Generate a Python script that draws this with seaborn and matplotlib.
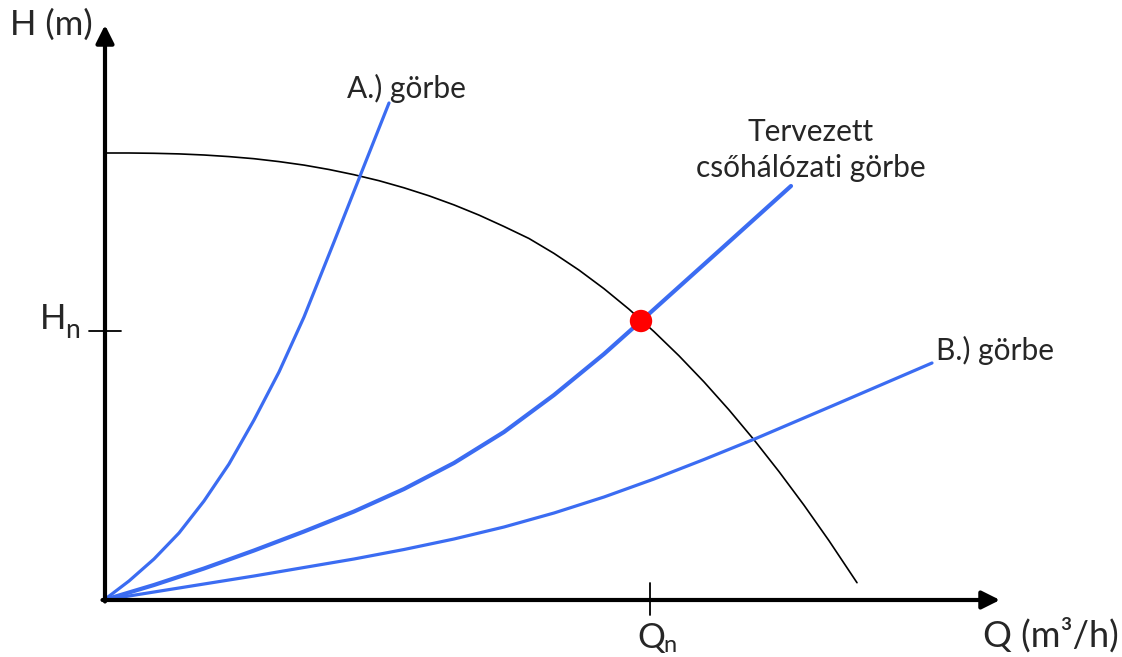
import matplotlib
matplotlib.use("Agg")
import matplotlib.pyplot as plt
import seaborn as sns
import pandas as pd

sns.set_theme(style="white")
plt.rcParams['font.family'] = ['Lato', 'DejaVu Sans']

# curves (arbitrary units, origin at axis corner)
pump_q = [0, 25, 50, 75, 100, 125, 150, 175, 200, 225, 250, 275, 300, 325, 350, 375,
          400, 425, 450, 475, 500, 525, 550, 575, 600, 625, 650, 675, 700, 725, 753]
pump_h = [447, 447, 446.7, 446.1, 445, 443.4, 441.3, 438.4, 434.9, 430.5, 425.3, 419.3,
          412.2, 404.2, 395.1, 384.9, 373.5, 361.5, 346.6, 329.9, 311.3, 290.8, 268.4,
          244.2, 218.1, 190.1, 160.2, 128.4, 94.8, 59.3, 17.3]

a_q = [0, 25, 50, 75, 100, 125, 150, 175, 200, 230, 260, 285]
a_h = [0, 19, 41, 67, 99, 136, 180, 228, 283, 358, 434, 497]

plan_q = [0, 50, 100, 150, 200, 250, 300, 350, 400, 450, 500, 537, 616, 687]
plan_h = [0, 15, 31.5, 49.5, 68.5, 88.5, 111, 137, 168, 205, 246, 279, 350, 414]

b_q = [0, 50, 100, 150, 200, 250, 300, 350, 400, 450, 500, 550, 600, 653, 728, 828]
b_h = [0, 8, 16, 24, 32.5, 41, 50.5, 61, 73, 87, 103, 121, 140.5, 162, 194, 237]

work_q = [537]
work_h = [279]
qn, hn = 546, 269

blue = '#3b6cf2'

fig = plt.figure(figsize=(11.22, 6.57), dpi=100)
ax = fig.add_axes([0, 0, 1, 1])

df = pd.concat([
    pd.DataFrame({'Q': pump_q, 'H': pump_h, 'curve': 'pump'}),
    pd.DataFrame({'Q': a_q, 'H': a_h, 'curve': 'A'}),
    pd.DataFrame({'Q': plan_q, 'H': plan_h, 'curve': 'plan'}),
    pd.DataFrame({'Q': b_q, 'H': b_h, 'curve': 'B'}),
])

sns.lineplot(data=df, x='Q', y='H', hue='curve', size='curve', sort=False,
             palette={'pump': 'black', 'A': blue, 'plan': blue, 'B': blue},
             sizes={'pump': 1.2, 'A': 2.3, 'plan': 3.0, 'B': 2.3},
             legend=False, ax=ax)
sns.scatterplot(x=work_q, y=work_h, color='red', s=260, edgecolor='none', zorder=5, ax=ax)

# axes with arrows
arr = dict(arrowstyle='-|>,head_length=0.4,head_width=0.2', lw=3, color='black',
           mutation_scale=27, shrinkA=0, shrinkB=0)
ax.annotate('', xy=(896, 0), xytext=(-1.5, 0), arrowprops=arr)
ax.annotate('', xy=(1, 575), xytext=(1, -1.5), arrowprops=arr)

# ticks for nominal point
ax.plot([-15, 17], [hn, hn], color='black', lw=1.3)
ax.plot([qn, qn], [-15, 17], color='black', lw=1.3)

ax.text(-94, 575, 'H (m)', fontsize=25, ha='left', va='center')
ax.text(-64, 281, 'H', fontsize=25, ha='left', va='center')
ax.text(-39, 270, 'n', fontsize=19, ha='left', va='center')
ax.text(533, -38, 'Q', fontsize=25, ha='left', va='center')
ax.text(559, -45, 'n', fontsize=17, ha='left', va='center')
ax.text(879, -35, 'Q (m³/h)', fontsize=26, ha='left', va='center')

ax.text(302, 512, 'A.) görbe', fontsize=21.5, ha='center', va='center')
ax.text(707, 468, 'Tervezett', fontsize=21.5, ha='center', va='center')
ax.text(707, 432, 'csőhálózati görbe', fontsize=21.5, ha='center', va='center')
ax.text(832, 250, 'B.) görbe', fontsize=21.5, ha='left', va='center')

ax.set_xlim(-104, 1018)
ax.set_ylim(-57, 600)
ax.axis('off')

fig.savefig('out.png', dpi=100, facecolor='white')
